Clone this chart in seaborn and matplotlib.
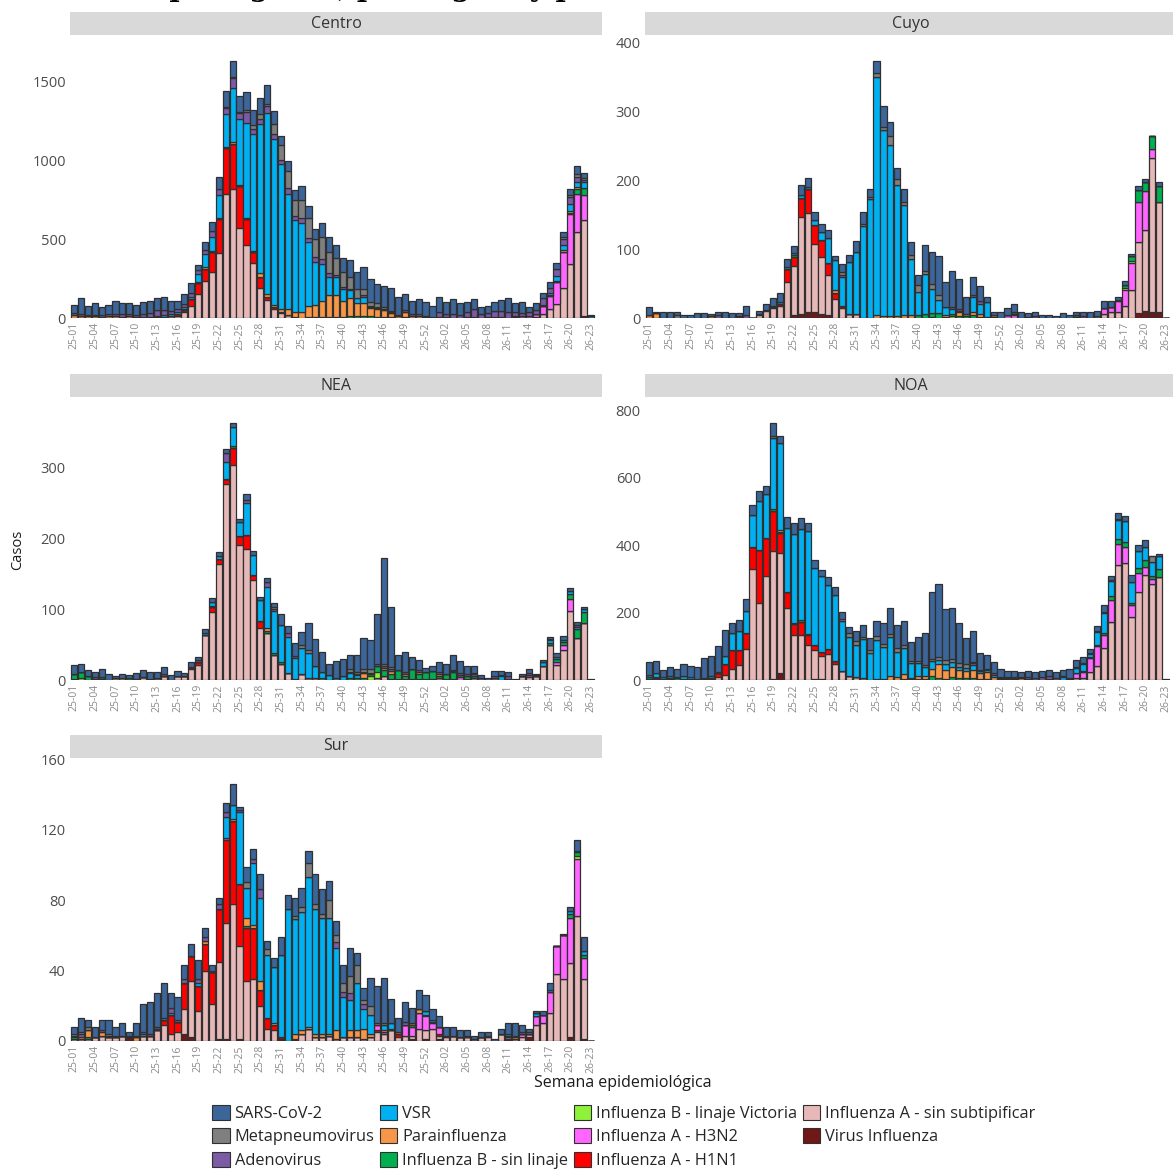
import matplotlib
matplotlib.use("Agg")
import matplotlib.pyplot as plt
from matplotlib.patches import Patch
import pandas as pd
import seaborn as sns

# ---------------------------------------------------------------- categories
WEEKS = [f"25-{w:02d}" for w in range(1, 54)] + [f"26-{w:02d}" for w in range(1, 24)]
REGIONS = ["Centro", "Cuyo", "NEA", "NOA", "Sur"]
AGENTS = [
    "SARS-CoV-2", "Metapneumovirus", "Adenovirus", "VSR", "Parainfluenza",
    "Influenza B - sin linaje", "Influenza B - linaje Victoria",
    "Influenza A - H3N2", "Influenza A - H1N1",
    "Influenza A - sin subtipificar", "Virus Influenza",
]
COLORS = [
    "#3c6599", "#7f7f7f", "#7b5aa6", "#00b0f0", "#f79646",
    "#00b050", "#8ff23a", "#ff66ff", "#ff0000", "#e6b9b8", "#701818",
]

# ---------------------------------------------------------------- Centro
centro_sars = [50, 100, 56, 71, 50, 59, 83, 70, 68, 60,
               74, 80, 81, 87, 65, 52, 60, 60, 35, 46,
               53, 78, 100, 105, 99, 112, 100, 105, 120, 84,
               63, 63, 63, 89, 72, 65, 92, 98, 85, 91,
               110, 105, 138, 147, 122, 137, 147, 115, 102, 83,
               93, 86, 71, 95, 78, 93, 73, 64, 63, 43,
               46, 58, 69, 84, 58, 73, 33, 43, 35, 36,
               41, 32, 40, 48, 35, 9]
centro_metap = [0, 0, 0, 0, 0, 0, 0, 0, 0, 0,
                0, 0, 0, 0, 0, 0, 0, 0, 0, 0,
                0, 0, 5, 5, 5, 10, 25, 30, 10, 68,
                90, 110, 100, 114, 127, 115, 137, 133, 105, 95,
                75, 54, 40, 27, 25, 10, 5, 0, 0, 0,
                0, 0, 0, 0, 0, 0, 0, 0, 0, 0,
                0, 0, 0, 0, 0, 0, 0, 0, 0, 0,
                0, 10, 10, 20, 10, 0]
centro_adeno = [10, 10, 8, 10, 10, 15, 15, 15, 15, 15,
                20, 25, 35, 30, 20, 20, 25, 25, 25, 30,
                40, 35, 38, 60, 38, 70, 30, 30, 48, 30,
                25, 38, 25, 27, 30, 30, 30, 25, 10, 10,
                8, 5, 8, 5, 5, 5, 10, 5, 10, 10,
                10, 5, 5, 35, 20, 25, 20, 30, 50, 25,
                25, 40, 40, 40, 25, 20, 20, 25, 45, 30,
                45, 40, 48, 32, 15, 0]
centro_vsr = [0, 0, 0, 0, 0, 0, 0, 0, 0, 0,
              0, 0, 5, 10, 10, 10, 10, 15, 48, 80,
              90, 148, 208, 348, 418, 605, 740, 945, 1150, 1050,
              920, 730, 590, 565, 405, 270, 236, 116, 115, 78,
              48, 30, 40, 5, 5, 0, 0, 5, 0, 0,
              0, 0, 0, 0, 0, 0, 0, 0, 0, 0,
              0, 0, 5, 0, 5, 0, 0, 0, 5, 15,
              30, 30, 45, 32, 36, 10]
centro_paraflu = [20, 15, 10, 12, 8, 10, 12, 8, 10, 5,
                  5, 5, 8, 8, 5, 5, 5, 2, 5, 10,
                  5, 8, 8, 10, 8, 8, 5, 25, 15, 15,
                  25, 35, 30, 40, 70, 80, 100, 135, 140, 100,
                  115, 80, 80, 55, 50, 45, 25, 10, 30, 15,
                  15, 8, 0, 0, 0, 0, 0, 0, 0, 0,
                  5, 0, 0, 0, 0, 0, 0, 0, 0, 5,
                  8, 10, 12, 12, 0, 0]
centro_flub = [0, 0, 0, 0, 0, 0, 0, 0, 0, 0,
               0, 0, 0, 0, 0, 0, 0, 0, 0, 0,
               0, 0, 0, 0, 0, 0, 0, 0, 0, 0,
               0, 0, 0, 0, 5, 5, 8, 8, 8, 8,
               15, 15, 15, 10, 8, 8, 5, 0, 8, 0,
               0, 0, 0, 0, 0, 0, 0, 0, 0, 0,
               0, 0, 0, 0, 0, 0, 0, 0, 0, 0,
               0, 0, 8, 35, 44, 0]
centro_flub_vic = [0, 0, 0, 0, 0, 0, 0, 0, 0, 0,
                   0, 0, 0, 0, 0, 0, 0, 0, 0, 0,
                   0, 0, 0, 0, 0, 0, 0, 0, 0, 0,
                   0, 0, 0, 0, 0, 0, 0, 0, 0, 0,
                   0, 0, 0, 0, 0, 0, 0, 0, 0, 0,
                   0, 0, 0, 0, 0, 0, 0, 0, 0, 0,
                   0, 0, 0, 0, 0, 0, 0, 0, 0, 0,
                   0, 0, 0, 0, 0, 0]
centro_h3n2 = [0, 0, 0, 0, 0, 0, 0, 0, 0, 0,
               0, 0, 0, 0, 0, 0, 0, 0, 0, 0,
               0, 0, 0, 0, 0, 0, 0, 0, 0, 0,
               0, 0, 0, 0, 0, 0, 0, 0, 0, 0,
               0, 0, 0, 0, 0, 0, 0, 0, 0, 0,
               0, 0, 0, 5, 5, 0, 0, 5, 5, 0,
               0, 0, 0, 0, 5, 10, 15, 20, 50, 85,
               137, 232, 314, 236, 162, 0]
centro_h1n1 = [0, 0, 0, 0, 0, 0, 0, 0, 0, 0,
               0, 0, 0, 0, 0, 8, 12, 40, 72, 78,
               125, 213, 291, 285, 264, 165, 70, 74, 21, 10,
               5, 0, 0, 0, 0, 0, 0, 0, 0, 0,
               0, 0, 0, 0, 0, 0, 0, 0, 0, 0,
               0, 0, 0, 0, 0, 0, 0, 0, 0, 0,
               0, 0, 0, 0, 0, 0, 0, 0, 0, 0,
               0, 0, 0, 0, 0, 0]
centro_flua = [0, 0, 0, 0, 0, 0, 0, 0, 0, 0,
               0, 0, 0, 0, 10, 15, 40, 78, 152, 236,
               295, 413, 789, 820, 574, 462, 352, 188, 114, 60,
               30, 20, 5, 0, 0, 0, 0, 0, 0, 0,
               0, 0, 0, 0, 0, 0, 0, 0, 0, 0,
               0, 0, 0, 0, 0, 0, 0, 0, 0, 0,
               0, 5, 0, 0, 0, 0, 0, 5, 25, 55,
               91, 190, 344, 549, 605, 0]
centro_virflu = [0, 0, 0, 0, 0, 0, 0, 0, 0, 0,
                 0, 0, 0, 0, 0, 0, 0, 0, 0, 0,
                 0, 0, 0, 0, 0, 0, 0, 0, 0, 0,
                 0, 0, 0, 0, 0, 0, 0, 0, 0, 0,
                 0, 0, 0, 0, 0, 0, 0, 0, 0, 0,
                 0, 0, 0, 0, 0, 0, 0, 0, 0, 0,
                 0, 0, 0, 0, 0, 0, 0, 0, 0, 0,
                 0, 0, 0, 0, 15, 0]

# ---------------------------------------------------------------- Cuyo
cuyo_sars = [12, 2, 8, 8, 3, 5, 5, 7, 7, 3,
             4, 9, 7, 4, 14, 0, 4, 9, 11, 13,
             12, 10, 14, 14, 11, 12, 12, 6, 11, 10,
             16, 17, 12, 18, 30, 21, 16, 19, 19, 14,
             37, 47, 57, 36, 53, 44, 25, 25, 22, 8,
             4, 8, 10, 13, 9, 5, 6, 5, 5, 3,
             7, 4, 5, 6, 8, 7, 10, 9, 5, 6,
             3, 6, 5, 1, 5, 0]
cuyo_metap = [0, 0, 0, 0, 5, 0, 0, 0, 0, 0,
              0, 0, 0, 0, 0, 0, 0, 0, 0, 0,
              0, 0, 0, 0, 0, 0, 0, 0, 4, 0,
              0, 3, 3, 5, 5, 13, 9, 5, 6, 10,
              5, 7, 7, 0, 0, 0, 0, 0, 0, 0,
              0, 0, 0, 0, 0, 0, 0, 0, 0, 0,
              0, 0, 0, 0, 0, 0, 0, 0, 0, 0,
              0, 0, 0, 0, 0, 0]
cuyo_adeno = [0, 0, 0, 0, 0, 0, 0, 0, 0, 0,
              4, 0, 0, 0, 4, 0, 0, 0, 0, 0,
              0, 0, 0, 0, 0, 0, 0, 0, 4, 0,
              0, 0, 0, 0, 0, 0, 0, 0, 0, 0,
              0, 0, 0, 0, 3, 3, 0, 3, 3, 0,
              0, 0, 0, 0, 0, 0, 0, 0, 0, 0,
              0, 0, 0, 0, 0, 0, 0, 0, 0, 0,
              0, 0, 0, 0, 0, 0]
cuyo_vsr = [0, 0, 0, 0, 0, 0, 0, 0, 0, 0,
            0, 0, 0, 0, 0, 0, 0, 0, 1, 2,
            3, 3, 4, 3, 8, 12, 36, 44, 42, 75,
            90, 134, 173, 346, 270, 248, 190, 160, 82, 34,
            58, 35, 19, 11, 7, 2, 0, 22, 15, 21,
            0, 0, 0, 0, 0, 0, 0, 0, 0, 0,
            0, 0, 0, 0, 0, 0, 0, 0, 0, 0,
            0, 0, 0, 0, 0, 0]
cuyo_paraflu = [4, 7, 0, 0, 0, 0, 0, 0, 0, 3,
                0, 0, 0, 0, 0, 0, 0, 0, 0, 0,
                0, 0, 0, 0, 0, 0, 0, 3, 0, 0,
                0, 0, 0, 5, 3, 3, 3, 4, 4, 0,
                0, 0, 0, 3, 0, 5, 3, 4, 4, 0,
                3, 0, 0, 0, 0, 0, 0, 0, 0, 0,
                0, 0, 0, 0, 0, 0, 0, 0, 0, 0,
                0, 0, 0, 0, 0, 0]
cuyo_flub = [0, 0, 0, 0, 0, 0, 0, 0, 0, 0,
             0, 0, 0, 0, 0, 0, 0, 0, 1, 0,
             0, 3, 0, 0, 0, 0, 0, 0, 0, 0,
             0, 0, 0, 0, 0, 0, 0, 0, 0, 4,
             6, 5, 7, 0, 3, 3, 3, 5, 2, 2,
             1, 0, 0, 2, 0, 0, 0, 0, 0, 0,
             0, 0, 2, 0, 0, 0, 0, 0, 2, 5,
             7, 18, 13, 18, 23, 0]
cuyo_flub_vic = [0, 0, 0, 0, 0, 0, 0, 0, 0, 0,
                 0, 0, 0, 0, 0, 0, 0, 0, 0, 0,
                 0, 0, 0, 0, 0, 0, 0, 0, 0, 0,
                 0, 0, 0, 0, 0, 0, 0, 0, 0, 0,
                 0, 2, 0, 2, 3, 0, 0, 0, 0, 0,
                 0, 0, 0, 1, 0, 0, 0, 0, 0, 0,
                 0, 0, 0, 0, 0, 0, 0, 0, 0, 2,
                 3, 0, 0, 0, 0, 0]
cuyo_h3n2 = [0, 0, 0, 0, 0, 0, 0, 0, 0, 0,
             0, 0, 0, 0, 0, 0, 0, 0, 0, 0,
             0, 0, 0, 0, 0, 0, 0, 0, 0, 0,
             0, 0, 0, 0, 0, 0, 0, 0, 0, 0,
             0, 0, 0, 0, 0, 0, 0, 0, 0, 0,
             0, 0, 4, 5, 0, 2, 3, 0, 0, 0,
             0, 0, 2, 3, 0, 0, 8, 7, 16, 24,
             40, 57, 56, 14, 0, 0]
cuyo_h1n1 = [0, 0, 0, 0, 0, 0, 0, 0, 0, 0,
             0, 0, 0, 3, 0, 0, 2, 2, 2, 3,
             19, 12, 28, 34, 27, 25, 17, 10, 3, 0,
             0, 0, 0, 0, 0, 0, 0, 0, 0, 0,
             0, 0, 0, 0, 0, 0, 0, 0, 0, 0,
             0, 0, 0, 0, 0, 0, 0, 0, 0, 0,
             0, 0, 0, 0, 0, 0, 0, 0, 0, 0,
             0, 0, 0, 0, 0, 0]
cuyo_flua = [0, 0, 0, 0, 0, 0, 0, 0, 0, 0,
             0, 0, 0, 0, 0, 0, 4, 10, 14, 18,
             52, 71, 141, 145, 100, 82, 59, 27, 14, 6,
             6, 0, 0, 0, 0, 0, 0, 0, 0, 0,
             0, 0, 0, 0, 0, 0, 0, 0, 0, 0,
             0, 0, 0, 0, 0, 0, 0, 0, 0, 0,
             0, 0, 0, 0, 0, 3, 6, 9, 8, 17,
             40, 104, 118, 224, 161, 0]
cuyo_virflu = [0, 0, 0, 0, 0, 0, 0, 0, 0, 0,
               0, 0, 0, 0, 0, 0, 0, 0, 0, 0,
               0, 5, 6, 8, 8, 6, 4, 0, 0, 0,
               0, 0, 0, 0, 0, 0, 0, 0, 0, 0,
               0, 0, 0, 0, 0, 0, 0, 0, 0, 0,
               0, 0, 0, 0, 0, 0, 0, 0, 0, 0,
               0, 0, 0, 0, 0, 0, 0, 0, 0, 0,
               0, 7, 10, 8, 8, 0]

# ---------------------------------------------------------------- NEA
nea_sars = [12, 11, 9, 8, 12, 9, 2, 6, 4, 9,
            10, 10, 9, 10, 7, 7, 5, 7, 5, 5,
            6, 6, 6, 6, 5, 9, 6, 4, 7, 6,
            16, 10, 19, 19, 37, 38, 27, 16, 24, 25,
            21, 24, 44, 40, 72, 149, 85, 22, 27, 17,
            14, 5, 7, 14, 14, 22, 17, 12, 10, 4,
            3, 8, 6, 6, 1, 3, 6, 2, 3, 3,
            5, 5, 4, 4, 3, 1]
nea_metap = [0, 0, 0, 0, 0, 0, 3, 0, 0, 0,
             0, 0, 0, 0, 0, 0, 0, 0, 0, 0,
             0, 0, 0, 0, 0, 0, 0, 0, 0, 2,
             0, 0, 0, 4, 5, 0, 0, 0, 0, 0,
             3, 3, 3, 6, 0, 3, 2, 0, 0, 0,
             0, 0, 0, 0, 0, 1, 0, 0, 2, 0,
             0, 0, 0, 0, 0, 0, 0, 0, 0, 0,
             0, 0, 0, 0, 0, 0]
nea_adeno = [0, 0, 0, 2, 0, 0, 0, 0, 0, 0,
             0, 0, 0, 4, 0, 0, 0, 0, 2, 0,
             0, 0, 12, 0, 0, 3, 0, 0, 7, 4,
             0, 5, 3, 0, 0, 0, 0, 0, 0, 0,
             2, 2, 2, 2, 2, 3, 3, 0, 3, 0,
             2, 0, 0, 2, 0, 2, 3, 3, 3, 3,
             0, 2, 2, 3, 0, 0, 3, 2, 0, 2,
             0, 0, 0, 3, 0, 0]
nea_vsr = [0, 0, 0, 0, 0, 0, 0, 0, 0, 0,
           0, 0, 0, 0, 0, 0, 0, 0, 0, 3,
           5, 4, 24, 27, 19, 46, 28, 30, 58, 59,
           53, 51, 29, 37, 35, 17, 9, 7, 3, 5,
           7, 4, 0, 0, 0, 0, 0, 0, 0, 0,
           0, 0, 0, 0, 0, 0, 0, 0, 0, 0,
           0, 0, 5, 0, 0, 0, 0, 0, 5, 3,
           3, 3, 4, 3, 4, 0]
nea_paraflu = [0, 0, 0, 2, 0, 0, 0, 3, 0, 0,
               0, 0, 0, 0, 0, 0, 0, 0, 0, 0,
               2, 0, 0, 0, 0, 0, 0, 0, 3, 0,
               0, 0, 0, 0, 0, 0, 0, 0, 0, 0,
               0, 0, 7, 0, 0, 3, 4, 0, 3, 0,
               3, 0, 0, 3, 0, 0, 0, 0, 0, 0,
               0, 0, 0, 0, 0, 0, 0, 0, 0, 0,
               0, 0, 0, 0, 0, 0]
nea_flub = [7, 8, 5, 0, 2, 0, 0, 0, 3, 1,
            0, 0, 0, 0, 0, 0, 0, 0, 0, 0,
            0, 0, 0, 3, 0, 0, 0, 0, 3, 2,
            2, 0, 0, 0, 0, 0, 3, 0, 0, 0,
            3, 3, 3, 3, 8, 9, 7, 12, 4, 14,
            7, 10, 11, 3, 6, 9, 3, 3, 2, 0,
            0, 0, 0, 0, 0, 0, 0, 0, 0, 4,
            4, 5, 7, 12, 15, 0]
nea_flub_vic = [2, 3, 0, 0, 2, 0, 0, 0, 0, 0,
                0, 0, 0, 0, 0, 0, 0, 0, 0, 0,
                0, 0, 0, 0, 0, 0, 0, 0, 0, 0,
                0, 0, 0, 0, 0, 0, 0, 0, 0, 0,
                0, 0, 0, 5, 9, 0, 0, 0, 0, 0,
                0, 0, 0, 0, 0, 0, 0, 0, 0, 0,
                0, 0, 0, 0, 0, 0, 0, 0, 0, 0,
                0, 0, 0, 0, 0, 0]
nea_h3n2 = [0, 0, 0, 0, 0, 0, 0, 0, 0, 0,
            0, 0, 0, 0, 0, 0, 0, 0, 0, 0,
            0, 0, 0, 0, 0, 0, 0, 0, 0, 0,
            0, 0, 0, 0, 0, 0, 0, 0, 0, 0,
            0, 0, 0, 0, 0, 0, 0, 0, 0, 0,
            0, 0, 0, 0, 0, 0, 4, 0, 0, 0,
            0, 0, 0, 0, 0, 0, 3, 0, 0, 0,
            5, 7, 18, 0, 0, 0]
nea_h1n1 = [0, 0, 0, 0, 0, 0, 0, 0, 0, 0,
            0, 0, 0, 0, 0, 0, 0, 3, 5, 0,
            7, 7, 8, 24, 13, 20, 7, 9, 0, 0,
            0, 0, 0, 0, 0, 0, 0, 0, 0, 0,
            0, 0, 0, 0, 0, 0, 0, 0, 0, 0,
            0, 0, 0, 0, 0, 2, 0, 0, 0, 0,
            0, 0, 0, 0, 0, 0, 0, 0, 0, 0,
            0, 0, 0, 0, 0, 0]
nea_flua = [0, 0, 0, 0, 0, 0, 0, 0, 0, 0,
            4, 2, 3, 5, 0, 6, 5, 16, 21, 64,
            96, 164, 277, 304, 191, 185, 142, 74, 67, 36,
            23, 10, 2, 8, 3, 3, 0, 0, 0, 0,
            0, 0, 0, 0, 3, 5, 2, 2, 2, 2,
            2, 2, 2, 3, 2, 0, 0, 2, 3, 0,
            0, 3, 0, 2, 0, 6, 4, 5, 20, 49,
            21, 42, 97, 60, 81, 0]
nea_virflu = [0, 0, 0, 0, 0, 0, 0, 0, 0, 0,
              0, 0, 0, 0, 0, 0, 0, 0, 0, 0,
              0, 0, 0, 0, 0, 0, 0, 0, 0, 0,
              0, 0, 0, 0, 0, 0, 0, 0, 0, 0,
              0, 0, 0, 0, 0, 0, 0, 0, 0, 0,
              0, 0, 0, 0, 0, 0, 0, 0, 0, 0,
              0, 0, 0, 0, 0, 0, 0, 0, 0, 0,
              0, 0, 0, 0, 0, 0]

# ---------------------------------------------------------------- NOA
noa_sars = [40, 37, 23, 28, 26, 35, 32, 37, 61, 60,
            77, 78, 29, 34, 34, 29, 28, 24, 39, 22,
            30, 32, 32, 25, 23, 18, 23, 25, 22, 20,
            28, 33, 36, 45, 63, 80, 70, 71, 58, 72,
            94, 198, 217, 152, 152, 119, 76, 93, 50, 42,
            31, 23, 18, 17, 17, 19, 20, 18, 18, 20,
            18, 26, 20, 18, 13, 16, 19, 13, 17, 15,
            19, 18, 20, 0, 8, 3]
noa_metap = [0, 0, 0, 0, 0, 0, 0, 0, 0, 0,
             0, 0, 0, 0, 0, 0, 0, 0, 5, 0,
             0, 0, 0, 0, 0, 0, 0, 0, 5, 10,
             13, 8, 8, 12, 8, 8, 10, 10, 4, 5,
             7, 5, 8, 13, 8, 12, 12, 3, 3, 0,
             0, 0, 0, 0, 0, 0, 0, 0, 0, 0,
             0, 0, 3, 0, 0, 0, 0, 3, 3, 0,
             0, 0, 0, 17, 0, 0]
noa_adeno = [0, 0, 0, 0, 0, 0, 0, 0, 0, 0,
             0, 0, 0, 0, 0, 0, 0, 0, 0, 0,
             0, 0, 0, 0, 0, 0, 0, 0, 0, 0,
             0, 0, 0, 0, 0, 0, 0, 0, 0, 0,
             0, 0, 0, 0, 0, 0, 0, 4, 0, 3,
             5, 3, 3, 3, 3, 5, 5, 8, 8, 5,
             3, 3, 0, 3, 3, 3, 5, 0, 0, 0,
             0, 0, 0, 0, 0, 0]
noa_vsr = [5, 12, 5, 5, 3, 8, 6, 0, 0, 5,
           4, 25, 52, 56, 66, 95, 145, 132, 212, 258,
           192, 263, 270, 304, 228, 227, 188, 196, 149, 115,
           95, 116, 80, 116, 95, 115, 76, 75, 44, 37,
           26, 23, 13, 15, 15, 8, 10, 15, 7, 7,
           6, 3, 0, 3, 0, 3, 0, 0, 0, 0,
           8, 0, 14, 20, 10, 36, 59, 45, 56, 64,
           63, 49, 39, 44, 37, 0]
noa_paraflu = [0, 0, 0, 3, 0, 3, 0, 0, 0, 0,
               0, 0, 0, 0, 0, 0, 0, 0, 0, 4,
               0, 0, 0, 0, 0, 0, 0, 0, 0, 0,
               0, 0, 0, 0, 4, 12, 8, 16, 4, 10,
               8, 22, 40, 27, 29, 24, 20, 23, 18, 20,
               10, 3, 2, 3, 5, 0, 0, 0, 0, 0,
               0, 0, 0, 0, 0, 0, 0, 0, 0, 0,
               0, 0, 0, 0, 0, 0]
noa_flub = [7, 0, 0, 3, 5, 0, 0, 0, 0, 0,
            0, 0, 0, 0, 0, 0, 0, 0, 5, 3,
            0, 4, 7, 5, 0, 0, 0, 0, 0, 0,
            0, 0, 0, 0, 0, 0, 0, 3, 3, 3,
            4, 12, 6, 4, 10, 7, 6, 7, 3, 3,
            0, 0, 3, 0, 0, 0, 0, 0, 0, 0,
            0, 0, 2, 3, 3, 4, 5, 12, 17, 13,
            7, 16, 22, 8, 26, 0]
noa_flub_vic = [0, 0, 0, 0, 0, 0, 0, 0, 0, 0,
                0, 0, 0, 0, 0, 0, 0, 0, 0, 0,
                0, 0, 0, 0, 0, 0, 0, 0, 0, 0,
                0, 0, 0, 0, 0, 0, 0, 0, 0, 0,
                0, 0, 0, 0, 0, 0, 0, 0, 0, 0,
                0, 0, 0, 0, 0, 0, 0, 0, 0, 0,
                0, 0, 0, 0, 0, 0, 0, 0, 0, 0,
                0, 0, 0, 0, 0, 0]
noa_h3n2 = [0, 0, 0, 0, 0, 0, 0, 0, 0, 0,
            0, 0, 0, 0, 0, 0, 0, 0, 0, 0,
            0, 0, 0, 0, 0, 0, 0, 0, 0, 0,
            0, 0, 0, 0, 0, 0, 0, 0, 0, 0,
            0, 0, 0, 0, 0, 0, 0, 0, 0, 0,
            0, 0, 0, 0, 0, 0, 0, 0, 3, 0,
            0, 3, 15, 20, 39, 59, 38, 64, 62, 47,
            36, 55, 23, 15, 0, 0]
noa_h1n1 = [0, 0, 0, 0, 0, 0, 0, 0, 0, 5,
            12, 31, 54, 44, 47, 65, 160, 113, 120, 61,
            47, 32, 37, 29, 17, 10, 15, 10, 0, 0,
            0, 0, 0, 0, 0, 0, 0, 0, 0, 0,
            0, 0, 0, 0, 0, 0, 0, 0, 0, 0,
            0, 0, 0, 0, 0, 0, 0, 0, 0, 0,
            0, 0, 0, 0, 0, 0, 0, 0, 0, 0,
            0, 0, 0, 0, 0, 0]
noa_flua = [0, 3, 0, 0, 0, 0, 0, 0, 0, 2,
            8, 15, 34, 44, 93, 330, 227, 307, 379, 356,
            213, 134, 134, 103, 85, 69, 78, 46, 26, 13,
            8, 5, 0, 3, 0, 0, 0, 0, 0, 0,
            0, 0, 0, 0, 0, 0, 0, 0, 0, 0,
            0, 0, 0, 0, 0, 0, 0, 0, 0, 0,
            0, 0, 5, 5, 25, 42, 96, 172, 340, 348,
            186, 262, 311, 284, 304, 0]
noa_virflu = [2, 5, 3, 0, 0, 0, 4, 2, 5, 0,
              0, 0, 0, 0, 0, 0, 0, 0, 3, 20,
              0, 0, 0, 0, 3, 3, 0, 0, 0, 0,
              0, 0, 0, 0, 0, 0, 0, 0, 0, 0,
              0, 0, 0, 0, 0, 0, 0, 0, 0, 0,
              0, 0, 0, 0, 0, 0, 0, 0, 0, 0,
              0, 0, 0, 0, 0, 0, 0, 0, 0, 0,
              0, 0, 0, 0, 0, 0]

# ---------------------------------------------------------------- Sur
sur_sars = [4, 8, 4, 6, 6, 8, 5, 7, 2, 7,
            16, 18, 19, 20, 8, 13, 8, 7, 11, 5,
            3, 3, 5, 12, 2, 9, 6, 9, 5, 5,
            10, 8, 10, 11, 7, 17, 14, 11, 8, 10,
            16, 7, 7, 16, 21, 26, 14, 8, 11, 9,
            11, 9, 6, 6, 5, 5, 4, 3, 2, 3,
            2, 1, 3, 6, 7, 4, 2, 1, 2, 4,
            0, 1, 2, 6, 8, 0]
sur_metap = [1, 1, 2, 0, 0, 1, 0, 0, 0, 1,
             0, 0, 0, 0, 0, 0, 0, 0, 0, 0,
             1, 0, 0, 0, 0, 3, 0, 0, 3, 0,
             0, 0, 2, 3, 8, 3, 2, 10, 4, 5,
             10, 10, 2, 5, 0, 1, 0, 0, 0, 0,
             0, 0, 0, 0, 0, 0, 0, 0, 0, 0,
             0, 0, 0, 0, 0, 0, 0, 0, 0, 0,
             0, 0, 0, 0, 0, 0]
sur_adeno = [0, 2, 0, 0, 1, 1, 1, 0, 1, 0,
             1, 1, 1, 0, 3, 1, 2, 0, 2, 2,
             0, 3, 3, 0, 1, 0, 2, 5, 0, 0,
             0, 0, 0, 0, 0, 0, 0, 0, 3, 3,
             4, 0, 3, 0, 0, 0, 0, 0, 2, 0,
             0, 0, 0, 0, 0, 0, 0, 0, 0, 0,
             0, 0, 0, 0, 1, 1, 1, 0, 0, 0,
             0, 0, 0, 0, 0, 0]
sur_vsr = [0, 0, 0, 0, 0, 0, 0, 0, 0, 0,
           1, 0, 1, 1, 1, 0, 0, 0, 2, 0,
           0, 0, 12, 8, 41, 17, 35, 47, 36, 32,
           47, 75, 65, 67, 85, 71, 66, 66, 47, 23,
           17, 27, 11, 11, 0, 3, 3, 0, 0, 0,
           0, 2, 1, 0, 0, 0, 0, 0, 0, 0,
           0, 0, 0, 1, 0, 0, 0, 2, 0, 1,
           0, 0, 2, 1, 2, 0]
sur_paraflu = [1, 1, 4, 0, 2, 0, 0, 0, 0, 2,
               0, 0, 0, 0, 0, 0, 0, 0, 0, 2,
               0, 0, 0, 1, 0, 5, 2, 5, 0, 1,
               0, 0, 3, 2, 1, 2, 2, 1, 5, 0,
               4, 4, 6, 2, 1, 1, 1, 1, 0, 1,
               2, 0, 0, 0, 0, 0, 0, 0, 0, 0,
               0, 0, 0, 1, 1, 0, 0, 0, 0, 0,
               0, 0, 0, 0, 0, 0]
sur_flub = [1, 0, 1, 0, 0, 0, 0, 0, 0, 0,
            0, 0, 0, 0, 0, 0, 0, 0, 0, 0,
            0, 0, 0, 0, 0, 1, 0, 0, 0, 0,
            0, 0, 0, 0, 0, 0, 0, 0, 0, 0,
            0, 0, 0, 0, 0, 0, 0, 0, 0, 1,
            0, 0, 1, 0, 0, 0, 0, 1, 0, 0,
            0, 0, 0, 0, 0, 0, 0, 0, 0, 0,
            0, 0, 2, 2, 2, 0]
sur_flub_vic = [0, 0, 0, 0, 0, 0, 0, 0, 0, 0,
                0, 0, 0, 0, 0, 0, 0, 0, 0, 0,
                0, 0, 0, 0, 0, 0, 0, 0, 0, 0,
                0, 0, 0, 0, 0, 0, 0, 0, 0, 0,
                0, 0, 0, 0, 0, 0, 0, 0, 0, 0,
                0, 1, 0, 0, 0, 0, 0, 0, 0, 0,
                0, 0, 0, 0, 0, 0, 0, 0, 0, 0,
                0, 0, 0, 2, 0, 0]
sur_h3n2 = [0, 0, 0, 0, 0, 0, 0, 0, 0, 0,
            0, 0, 0, 0, 0, 0, 0, 0, 0, 0,
            0, 0, 1, 0, 0, 0, 0, 0, 0, 0,
            0, 0, 0, 0, 0, 0, 0, 0, 0, 0,
            0, 0, 0, 0, 3, 1, 0, 0, 6, 5,
            9, 8, 3, 4, 1, 0, 0, 0, 0, 0,
            1, 0, 0, 0, 0, 2, 0, 5, 5, 12,
            16, 25, 26, 32, 12, 0]
sur_h1n1 = [0, 0, 0, 0, 0, 0, 0, 0, 0, 0,
            0, 0, 0, 3, 11, 6, 15, 14, 14, 15,
            18, 30, 47, 47, 35, 30, 29, 9, 6, 3,
            1, 0, 0, 0, 0, 0, 0, 0, 0, 0,
            0, 0, 0, 0, 1, 0, 0, 2, 0, 0,
            0, 0, 0, 1, 0, 0, 0, 0, 0, 0,
            0, 0, 0, 0, 0, 0, 0, 0, 0, 0,
            0, 0, 0, 0, 0, 0]
sur_flua = [1, 1, 1, 2, 3, 2, 2, 3, 0, 0,
            3, 3, 6, 9, 4, 5, 14, 32, 17, 40,
            21, 44, 66, 78, 53, 34, 35, 20, 7, 6,
            0, 0, 0, 4, 7, 2, 2, 3, 1, 2,
            2, 2, 1, 2, 5, 4, 6, 2, 3, 2,
            7, 5, 7, 2, 2, 3, 2, 2, 1, 2,
            2, 0, 4, 1, 1, 2, 2, 9, 10, 16,
            38, 35, 42, 71, 34, 0]
sur_virflu = [0, 0, 0, 0, 0, 0, 0, 0, 2, 0,
              0, 0, 0, 0, 0, 0, 4, 2, 0, 0,
              0, 1, 1, 0, 1, 0, 0, 0, 0, 0,
              1, 0, 1, 0, 0, 0, 0, 0, 0, 0,
              0, 0, 0, 0, 0, 0, 0, 0, 0, 1,
              0, 1, 0, 1, 0, 0, 0, 0, 0, 0,
              0, 0, 0, 1, 0, 0, 2, 0, 0, 0,
              0, 0, 2, 0, 1, 0]

SERIES = {
    "Centro": [centro_sars, centro_metap, centro_adeno, centro_vsr, centro_paraflu,
               centro_flub, centro_flub_vic, centro_h3n2, centro_h1n1, centro_flua, centro_virflu],
    "Cuyo": [cuyo_sars, cuyo_metap, cuyo_adeno, cuyo_vsr, cuyo_paraflu,
             cuyo_flub, cuyo_flub_vic, cuyo_h3n2, cuyo_h1n1, cuyo_flua, cuyo_virflu],
    "NEA": [nea_sars, nea_metap, nea_adeno, nea_vsr, nea_paraflu,
            nea_flub, nea_flub_vic, nea_h3n2, nea_h1n1, nea_flua, nea_virflu],
    "NOA": [noa_sars, noa_metap, noa_adeno, noa_vsr, noa_paraflu,
            noa_flub, noa_flub_vic, noa_h3n2, noa_h1n1, noa_flua, noa_virflu],
    "Sur": [sur_sars, sur_metap, sur_adeno, sur_vsr, sur_paraflu,
            sur_flub, sur_flub_vic, sur_h3n2, sur_h1n1, sur_flua, sur_virflu],
}

Y_TICKS = {
    "Centro": [0, 500, 1000, 1500],
    "Cuyo": [0, 100, 200, 300, 400],
    "NEA": [0, 100, 200, 300],
    "NOA": [0, 200, 400, 600, 800],
    "Sur": [0, 40, 80, 120, 160],
}

rows = []
for region in REGIONS:
    for agent, values in zip(AGENTS, SERIES[region]):
        assert len(values) == len(WEEKS), (region, agent, len(values))
        for i, v in enumerate(values):
            rows.append((region, i, agent, v))
df = pd.DataFrame(rows, columns=["region", "semana", "agente", "casos"])

# ---------------------------------------------------------------- figure
sns.set_theme(style="white")
plt.rcParams["font.family"] = ["Open Sans", "DejaVu Sans"]

W, H = 1173, 1169
fig = plt.figure(figsize=(W / 100, H / 100), dpi=100)
fig.patch.set_facecolor("white")

PANEL_W, PANEL_H, STRIP_H = 532, 283, 23
ORIGIN = {"Centro": (70, 35), "Cuyo": (645, 35), "NEA": (70, 397),
          "NOA": (645, 397), "Sur": (70, 758)}
N_SLOTS = len(WEEKS) + 1
EDGE = "#303030"

for region in REGIONS:
    x0, y0 = ORIGIN[region]
    ax = fig.add_axes([x0 / W, 1 - (y0 + PANEL_H) / H, PANEL_W / W, PANEL_H / H])
    sub = df[df["region"] == region]
    sns.histplot(data=sub, x="semana", weights="casos", hue="agente",
                 hue_order=AGENTS, palette=COLORS, multiple="stack",
                 discrete=True, shrink=0.9, alpha=1, edgecolor=EDGE,
                 linewidth=0.9, legend=False, ax=ax)
    top = sub.groupby("semana")["casos"].sum().max()
    ax.set_ylim(0, top * 1.1)
    ax.set_xlim(-0.6, N_SLOTS - 0.4)
    ax.set_xticks(range(0, len(WEEKS), 3))
    ax.set_xticklabels(WEEKS[::3], rotation=90, fontsize=7.5, color="#8a8a8a")
    ax.set_yticks(Y_TICKS[region])
    ax.set_yticklabels([str(t) for t in Y_TICKS[region]], fontsize=10.5, color="#4d4d4d")
    ax.tick_params(axis="both", length=2, width=0.6, color="#555555", pad=1)
    ax.set_xlabel("")
    ax.set_ylabel("")
    for s in ax.spines.values():
        s.set_visible(False)
    ax.set_facecolor("white")

    strip = fig.add_axes([x0 / W, 1 - y0 / H, PANEL_W / W, STRIP_H / H])
    strip.set_facecolor("#d9d9d9")
    strip.set_xticks([])
    strip.set_yticks([])
    for s in strip.spines.values():
        s.set_visible(False)
    strip.text(0.5, 0.5, region, ha="center", va="center", fontsize=11.5,
               color="#333333", transform=strip.transAxes)

fig.text(18 / W, 1 - 550 / H, "Casos", rotation=90, ha="center", va="center",
         fontsize=10.5, color="#1a1a1a")
fig.text(623 / W, 1 - 1083 / H, "Semana epidemiológica", ha="center", va="center",
         fontsize=11.5, color="#1a1a1a")
# page heading sits above the panels, largely outside the canvas
fig.text(70 / W, 1 + 4 / H, "Casos por agente, por región y por semana",
         ha="left", va="baseline", fontsize=20, fontweight="bold",
         family=["DejaVu Serif"], color="black")

handles = [Patch(facecolor=c, edgecolor=EDGE, linewidth=0.8) for c in COLORS]
fig.legend(handles, AGENTS, ncol=4, loc="upper center",
           bbox_to_anchor=(624 / W, 1 - 1105 / H), frameon=False, fontsize=11.8,
           handlelength=1.05, handleheight=1.05, handletextpad=0.3,
           columnspacing=0.35, labelspacing=0.37, borderaxespad=0, borderpad=0)

fig.savefig("out.png", dpi=100, facecolor="white")
